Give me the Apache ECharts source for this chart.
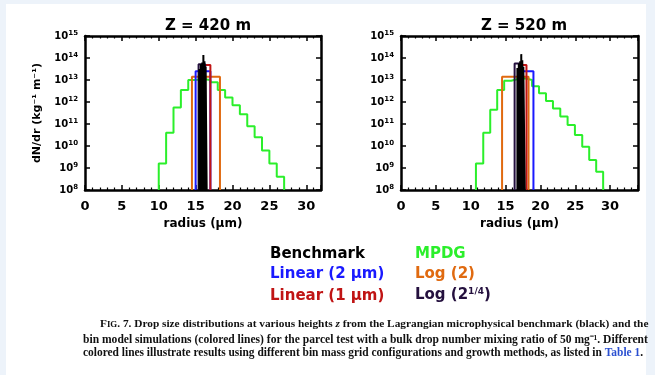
<!DOCTYPE html>
<html><head><meta charset="utf-8">
<script src="https://cdn.jsdelivr.net/npm/echarts/dist/echarts.min.js"></script>
<style>html,body{margin:0;padding:0;background:#edf3fa;}#c{width:655px;height:375px;}</style>
</head><body><div id="c"></div>
<script>
// ---------- data ----------
const xTickStep = 5;
const yMin = 1e8, yMax = 1e15;
const panelTitles = ['Z = 420 m', 'Z = 520 m'];
const xMaxes = [32, 34];

// Z = 420 m
const L_greenEdges = [10,11,12,13,14,15,16,17,18,19,20,21,22,23,24,25,26,27];
const L_greenVals  = [1.6e9,4.0e10,5.6e11,3.5e12,1.0e13,1.1e13,1.0e13,7.9e12,3.5e12,1.6e12,7.1e11,2.8e11,7.9e10,2.5e10,6.3e9,1.6e9,4.0e8];
const L_orangeEdges = [14.5,18.3];
const L_orangeVals  = [1.4e13];
const L_blueEdges = [15,17];
const L_blueVals  = [2.5e13];
const L_redEdges = [16,17];
const L_redVals  = [4.8e13];
const L_purpleEdges = [15.4,16.3];
const L_purpleVals  = [5.2e13];
const L_blackEdges = [15.5,15.7,15.9,16.05,16.2,16.35,16.5];
const L_blackVals  = [3.2e13,5.2e13,6.3e13,1.38e14,7.1e13,4.0e13];

// Z = 520 m
const R_greenEdges = [10.75,11.8,12.8,13.8,14.8,15.8,16.8,17.8,18.8,19.8,20.8,21.8,22.85,23.9,24.95,26.0,27.0,28.0,29.0];
const R_greenVals  = [1.6e9,4.0e10,4.5e11,3.5e12,9.3e12,1.1e13,1.2e13,1.0e13,5.2e12,2.5e12,1.1e12,5.0e11,2.2e11,8.9e10,3.2e10,9.3e9,2.3e9,6.8e8];
const R_orangeEdges = [14.5,18.3];
const R_orangeVals  = [1.4e13];
const R_blueEdges = [17,19];
const R_blueVals  = [2.5e13];
const R_redEdges = [17,18];
const R_redVals  = [4.8e13];
const R_purpleEdges = [16.3,17.3];
const R_purpleVals  = [5.6e13];
const R_blackEdges = [16.7,16.9,17.1,17.25,17.4,17.55,17.75];
const R_blackVals  = [3.5e13,5.6e13,7.1e13,1.5e14,7.9e13,4.0e13];

const legendItems = ['Benchmark','MPDG','Linear (2 µm)','Log (2)','Linear (1 µm)','Log (2^1/4)'];

// ---------- helpers ----------
const C = {green:'#2bef2b', blue:'#1a1aff', orange:'#e06a10', red:'#c01414', purple:'#24103e', black:'#000000'};
function steps(edges, vals){
  const p=[[edges[0],yMin]];
  for(let i=0;i<vals.length;i++){p.push([edges[i],vals[i]],[edges[i+1],vals[i]]);}
  p.push([edges[edges.length-1],yMin]);
  return p;
}
function boxes(edges, vals){
  const p=[];
  for(let i=0;i<vals.length;i++){p.push([edges[i],yMin],[edges[i],vals[i]],[edges[i+1],vals[i]],[edges[i+1],yMin]);}
  return p;
}
const FONT='DejaVu Sans';
function ser(data,color,xi,yi,z,w){
  return {type:'line',data:data,xAxisIndex:xi,yAxisIndex:yi,showSymbol:false,symbol:'none',
    lineStyle:{color:color,width:w||2},itemStyle:{color:color},z:z,animation:false,clip:true};
}
function xAx(grid,pos,max,labels,name){
  return {type:'value',gridIndex:grid,position:pos,min:0,max:max,interval:xTickStep,
    axisLine:{show:true,onZero:false,lineStyle:{color:'#000',width:2.5}},
    axisTick:{show:true,inside:true,length:5,lineStyle:{color:'#000',width:1.5}},
    minorTick:{show:true,splitNumber:5,length:2.5,lineStyle:{color:'#000',width:1.2}},
    splitLine:{show:false},minorSplitLine:{show:false},
    axisLabel:{show:labels,margin:10,color:'#000',fontFamily:FONT,fontWeight:'bold',fontSize:13,
      formatter:v=>(v%5===0&&v<=30)?String(v):''},
    name:name||'',nameLocation:'middle',nameGap:28,
    nameTextStyle:{color:'#000',fontFamily:FONT,fontWeight:'bold',fontSize:12}};
}
function yAx(grid,pos,labels,name){
  return {type:'log',logBase:10,gridIndex:grid,position:pos,min:yMin,max:yMax,splitNumber:7,
    axisLine:{show:true,onZero:false,lineStyle:{color:'#000',width:2.5}},
    axisTick:{show:true,inside:true,length:5,lineStyle:{color:'#000',width:1.5}},
    minorTick:{show:false},splitLine:{show:false},
    axisLabel:{show:labels,margin:7,color:'#000',
      formatter:v=>'{b|10}{s|'+Math.round(Math.log10(v))+'}',
      rich:{b:{fontFamily:FONT,fontWeight:'bold',fontSize:10,color:'#000'},
            s:{fontFamily:FONT,fontWeight:'bold',fontSize:7,color:'#000',padding:[0,0,6,0]}}},
    name:name||'',nameLocation:'middle',nameGap:42,nameRotate:90,
    nameTextStyle:{color:'#000',fontFamily:FONT,fontWeight:'bold',fontSize:11}};
}

const chart = echarts.init(document.getElementById('c'),null,{renderer:'canvas'});
function capRich(fs){
  return {
    t:{fontFamily:'Liberation Serif',fontWeight:'bold',fontSize:fs,fill:'#111'},
    sc:{fontFamily:'Liberation Serif',fontWeight:'bold',fontSize:fs,fill:'#111'},
    scs:{fontFamily:'Liberation Serif',fontWeight:'bold',fontSize:fs*0.78,fill:'#111'},
    i:{fontFamily:'Liberation Serif',fontWeight:'bold',fontStyle:'italic',fontSize:fs,fill:'#111'},
    bl:{fontFamily:'Liberation Serif',fontWeight:'bold',fontSize:fs,fill:'#2a4fd0'}
  };
}
const legFont = {fontFamily:FONT,fontWeight:'bold',fontSize:15};
function legText(x,y,text,color){
  return {type:'text',left:x,top:y,z:10,style:Object.assign({text:text,fill:color},legFont)};
}
const option = {
  backgroundColor:'#edf3fa',
  animation:false,
  title:[
    {text:panelTitles[0],left:203,top:14,textAlign:'center',textStyle:{fontFamily:FONT,fontWeight:'bold',fontSize:15,color:'#000'}},
    {text:panelTitles[1],left:519,top:14,textAlign:'center',textStyle:{fontFamily:FONT,fontWeight:'bold',fontSize:15,color:'#000'}}
  ],
  grid:[
    {left:85,top:36,width:236,height:154,containLabel:false,outerBoundsMode:'none'},
    {left:401,top:36,width:237,height:154,containLabel:false,outerBoundsMode:'none'}
  ],
  xAxis:[xAx(0,'bottom',xMaxes[0],true,'radius (µm)'),xAx(0,'top',xMaxes[0],false),
         xAx(1,'bottom',xMaxes[1],true,'radius (µm)'),xAx(1,'top',xMaxes[1],false)],
  yAxis:[yAx(0,'left',true,'dN/dr (kg⁻¹ m⁻¹)'),yAx(0,'right',false),
         yAx(1,'left',true),yAx(1,'right',false)],
  series:[
    ser(steps(L_greenEdges,L_greenVals),C.green,0,0,2),
    ser(steps(L_orangeEdges,L_orangeVals),C.orange,0,0,3),
    ser(steps(L_blueEdges,L_blueVals),C.blue,0,0,4),
    ser(steps(L_redEdges,L_redVals),C.red,0,0,5),
    ser(steps(L_purpleEdges,L_purpleVals),C.purple,0,0,6),
    ser(boxes(L_blackEdges,L_blackVals),C.black,0,0,7,2),
    ser(steps(R_greenEdges,R_greenVals),C.green,2,2,2),
    ser(steps(R_orangeEdges,R_orangeVals),C.orange,2,2,3),
    ser(steps(R_blueEdges,R_blueVals),C.blue,2,2,4),
    ser(steps(R_redEdges,R_redVals),C.red,2,2,5),
    ser(steps(R_purpleEdges,R_purpleVals),C.purple,2,2,6),
    ser(boxes(R_blackEdges,R_blackVals),C.black,2,2,7,2)
  ],
  graphic:[
    {type:'rect',left:6,top:4,z:-10,silent:true,shape:{width:640,height:371},style:{fill:'#ffffff'}},
    legText(270,247,legendItems[0],C.black),
    legText(415,247,legendItems[1],C.green),
    legText(270,267,legendItems[2],C.blue),
    legText(415,267,legendItems[3],C.orange),
    legText(270,289,legendItems[4],C.red),
    {type:'text',left:415,top:287,z:10,style:{text:'{t|Log (2}{s|1/4}{t|)}',
      rich:{t:Object.assign({fill:C.purple},legFont),s:{fontFamily:FONT,fontWeight:'bold',fontSize:9,fill:C.purple,padding:[0,0,8,0]}}}},
    {type:'text',left:100,top:319,z:10,style:{text:'{sc|F}{scs|IG}{t|. 7. Drop size distributions at various heights }{i|z}{t| from the Lagrangian microphysical benchmark (black) and the}',rich:capRich(11.33)}},
    {type:'text',left:83,top:334,z:10,style:{text:'{t|bin model simulations (colored lines) for the parcel test with a bulk drop number mixing ratio of 50 mg⁻¹. Different}',rich:capRich(11.57)}},
    {type:'text',left:83,top:348,z:10,style:{text:'{t|colored lines illustrate results using different bin mass grid configurations and growth methods, as listed in }{bl|Table 1}{t|.}',rich:capRich(11.43)}}
  ]
};
chart.setOption(option);
</script>
</body></html>
